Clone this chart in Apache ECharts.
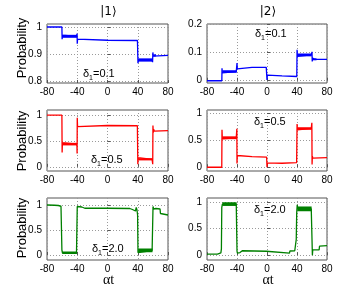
<!DOCTYPE html>
<html><head><meta charset="utf-8">
<script src="https://cdn.jsdelivr.net/npm/echarts@6/dist/echarts.min.js"></script>
<style>html,body{margin:0;padding:0;background:#fff}#c{width:363px;height:293px}</style>
</head><body><div id="c"></div>
<script>
// ---- data ----
const xTicks = [-80, -40, 0, 40, 80];
const stateTitles = ['|1\u27E9', '|2\u27E9'];
const deltaLabels = ['0.1', '0.5', '2.0'];
const yTicksRow1Left = [0.8, 0.9, 1];
const yTicksRow1Right = [0, 0.1, 0.2];
const yTicksOther = [0, 0.5, 1];

// main traces [x, probability]
const pop1Delta01 = [[-80,1.000],[-60.3,1.000],[-60,0.955],[-59.6,0.970],[-59,0.965],[-41,0.965],
 [-40.2,0.975],[-40,0.938],[-39.6,0.955],[-39,0.951],[0,0.951],[39.6,0.950],[40,0.956],[40.3,0.866],
 [41,0.878],[59,0.878],[59.6,0.870],[60,0.906],[60.5,0.892],[61,0.898],[62,0.893],[63,0.896],[80,0.895]];
const pop2Delta01 = [[-80,0.000],[-60.2,0.000],[-60,0.044],[-59.6,0.028],[-59,0.032],[-41,0.032],
 [-40.3,0.026],[-40,0.062],[-39.6,0.042],[-39,0.049],[-38,0.046],[-37,0.048],[-20,0.047],[-1,0.047],[-0.4,0.049],
 [0,0.003],[0.5,0.020],[1,0.017],[20,0.017],[39.7,0.015],[40.1,0.109],[40.5,0.086],[41,0.091],[59,0.091],
 [59.6,0.098],[60,0.102],[60.3,0.068],[60.8,0.080],[61.5,0.074],[62.5,0.078],[64,0.075],[80,0.075]];
const pop1Delta05 = [[-80,1.00],[-60.3,1.00],[-60,0.28],[-59.6,0.47],[-59,0.44],[-41,0.44],
 [-40.4,0.40],[-40.2,0.26],[-40,0.95],[-39.6,0.78],[-39,0.81],[-38,0.805],[0,0.80],[39.5,0.795],[39.8,0.83],
 [40.1,0.05],[40.5,0.18],[41,0.145],[59,0.145],
 [59.6,0.17],[59.8,0.05],[60.1,0.80],[60.5,0.66],[61,0.73],[62,0.69],[63,0.71],[64,0.70],[80,0.70]];
const pop2Delta05 = [[-80,0.00],[-60.3,0.00],[-60,0.70],[-59.6,0.53],[-59,0.55],[-41,0.55],
 [-40.4,0.56],[-40.2,0.72],[-40,0.07],[-39.6,0.22],[-39,0.19],[-38,0.205],[-20,0.20],[-0.5,0.19],[-0.2,0.21],
 [0,0.00],[0.5,0.08],[1,0.07],[20,0.075],[39.5,0.085],[39.8,0.06],[40.1,0.81],[40.5,0.70],[41,0.725],[59,0.725],
 [59.6,0.74],[59.8,0.83],[60.1,0.05],[60.5,0.21],[61,0.17],[62,0.19],[80,0.18]];
const pop1Delta20 = [[-80,1.00],[-70,0.995],[-65,0.99],[-63,0.985],[-61.5,0.975],[-60.8,0.95],[-60.3,0.10],[-59.5,0.04],
 [-41,0.04],[-40.4,0.08],[-40,0.97],[-39.5,1.00],[-39,0.97],[-37,0.965],[-35,0.955],[-34,0.96],[-33,0.94],[-30,0.935],[0,0.935],
 [29.5,0.93],[30.5,0.89],[33,0.91],[35,0.885],[37,0.88],[38,0.95],[39,0.90],[39.8,0.80],[40.3,0.05],[41,0.09],
 [59,0.09],[59.6,0.06],[60.2,0.97],[61,0.92],[62,0.95],[64,0.93],[66,0.92],[69.5,0.92],[70,0.83],[72,0.82],[80,0.80]];
const pop2Delta20 = [[-80,0.02],[-66,0.02],[-65.5,0.04],[-61.5,0.045],[-60.8,0.12],[-60.3,0.90],[-59.5,0.965],
 [-41,0.965],[-40.5,0.95],[-40,0.08],[-39.5,0.04],[-37,0.03],[-36,0.05],[-34,0.05],[-33,0.085],[-1,0.075],
 [-0.5,0.05],[0,0.04],[30,0.04],[30.5,0.08],[37,0.085],[38,0.12],[39,0.30],[39.6,0.80],[40.3,0.95],[41,0.875],
 [59,0.875],[59.5,0.90],[60,0.30],[60.5,0.00],[61,0.10],[62,0.09],[64,0.10],[69.5,0.10],[70,0.17],[80,0.18]];

// oscillation bands [xStart, xEnd, yLow, yHigh]
const band1Delta01 = [[-59.5,-40.3,0.960,0.971],[40.5,59.5,0.872,0.884],[60.5,64,0.891,0.899]];
const band2Delta01 = [[-59.5,-40.3,0.028,0.037],[40.5,59.5,0.086,0.096],[60.5,66,0.072,0.079]];
const band1Delta05 = [[-59.5,-40.4,0.415,0.465],[40.5,59.6,0.125,0.168]];
const band2Delta05 = [[-59.5,-40.4,0.525,0.578],[40.5,59.6,0.700,0.748]];
const band1Delta20 = [[-59.5,-40.5,0.020,0.070],[40.5,59.5,0.055,0.130]];
const band2Delta20 = [[-59.5,-40.5,0.930,1.000],[40.5,59.5,0.830,0.920]];

// ---- layout ----
const panels = [
  {data: pop1Delta01, band: band1Delta01, color:'#0000ff', grid:{left:47, top:24, width:121, height:59}, y:[0.793,1.011], ticks:yTicksRow1Left, d:0, tx:83, ty:72},
  {data: pop2Delta01, band: band2Delta01, color:'#0000ff', grid:{left:207, top:24, width:120, height:59}, y:[-0.008,0.2], ticks:yTicksRow1Right, d:0, tx:255, ty:32},
  {data: pop1Delta05, band: band1Delta05, color:'#ff0000', grid:{left:47, top:110, width:121, height:61}, y:[-0.08,1.1], ticks:yTicksOther, d:1, tx:91, ty:158},
  {data: pop2Delta05, band: band2Delta05, color:'#ff0000', grid:{left:207, top:110, width:120, height:61}, y:[-0.07,1.07], ticks:yTicksOther, d:1, tx:254, ty:120},
  {data: pop1Delta20, band: band1Delta20, color:'#008000', grid:{left:47, top:198, width:121, height:62}, y:[-0.1,1.14], ticks:yTicksOther, d:2, tx:92, ty:247},
  {data: pop2Delta20, band: band2Delta20, color:'#008000', grid:{left:207, top:198, width:120, height:62}, y:[-0.09,1.08], ticks:yTicksOther, d:2, tx:254, ty:208}
];

const labelFont = {fontFamily:'Liberation Sans', fontSize:10, color:'#000'};
const gridLine = {show:true, lineStyle:{color:'#9a9a9a', type:[1,2], width:1}};

const series = [];
panels.forEach((p,i) => {
  series.push({
    type:'line', xAxisIndex:i, yAxisIndex:i, data:p.data, showSymbol:false, symbol:'none',
    lineStyle:{color:p.color, width:1.3}, clip:true, z:3
  });
  series.push({
    type:'custom', xAxisIndex:i, yAxisIndex:i, data:p.band, z:4,
    encode:{x:[0,1], y:[2,3]},
    renderItem:(params, api) => {
      const a = api.coord([api.value(0), api.value(3)]);
      const b = api.coord([api.value(1), api.value(2)]);
      return {type:'rect', shape:{x:a[0], y:a[1], width:b[0]-a[0], height:b[1]-a[1]}, style:{fill:p.color}};
    }
  });
});

const option = {
  animation:false,
  backgroundColor:'#fff',
  grid: panels.map(p => Object.assign({show:true, borderColor:'#555', borderWidth:1, backgroundColor:'transparent'}, p.grid)),
  xAxis: panels.map((p,i) => ({
    type:'value', gridIndex:i, min:-80, max:80, interval:40,
    axisLine:{show:false}, axisTick:{show:true, inside:true, length:3, lineStyle:{color:'#555'}},
    axisLabel:Object.assign({margin:4, customValues:xTicks}, labelFont),
    splitLine:gridLine
  })),
  yAxis: panels.map((p,i) => ({
    type:'value', gridIndex:i, min:p.y[0], max:p.y[1],
    axisLine:{show:false},
    axisTick:{show:true, inside:true, length:3, customValues:p.ticks, lineStyle:{color:'#555'}},
    axisLabel:Object.assign({margin:5, customValues:p.ticks}, labelFont),
    splitLine:gridLine
  })),
  series: series,
  graphic: []
};

// titles
[0,1].forEach(c => {
  const g = panels[c].grid;
  option.graphic.push({type:'text', x:g.left + g.width/2 + 1, y:12, style:{text:stateTitles[c], font:'12px "DejaVu Sans"', fill:'#000', align:'center', verticalAlign:'middle'}});
  option.graphic.push({type:'text', x:g.left + g.width/2 + 1, y:280, style:{text:'\u03B1t', font:'14px "Liberation Serif"', fill:'#000', align:'center', verticalAlign:'middle'}});
});
// y titles
[48,141,228].forEach(cy => {
  option.graphic.push({type:'text', x:22, y:cy, rotation:Math.PI/2, style:{text:'Probability', font:'13px "Liberation Sans"', fill:'#000', align:'center', verticalAlign:'middle'}});
});
// delta annotations
panels.forEach(p => {
  option.graphic.push({type:'text', x:p.tx, y:p.ty, z:10, style:{
    text:'{a|\u03B4}{s|1}{a|=' + deltaLabels[p.d] + '}',
    verticalAlign:'middle',
    rich:{a:{fontFamily:'Liberation Sans', fontSize:11, color:'#000', lineHeight:14, verticalAlign:'bottom'},
          s:{fontFamily:'Liberation Sans', fontSize:7, color:'#000', lineHeight:14, verticalAlign:'bottom', padding:[0,0,-3,0]}}
  }});
});

const chart = echarts.init(document.getElementById('c'), null, {renderer:'canvas'});
chart.setOption(option);
</script></body></html>
